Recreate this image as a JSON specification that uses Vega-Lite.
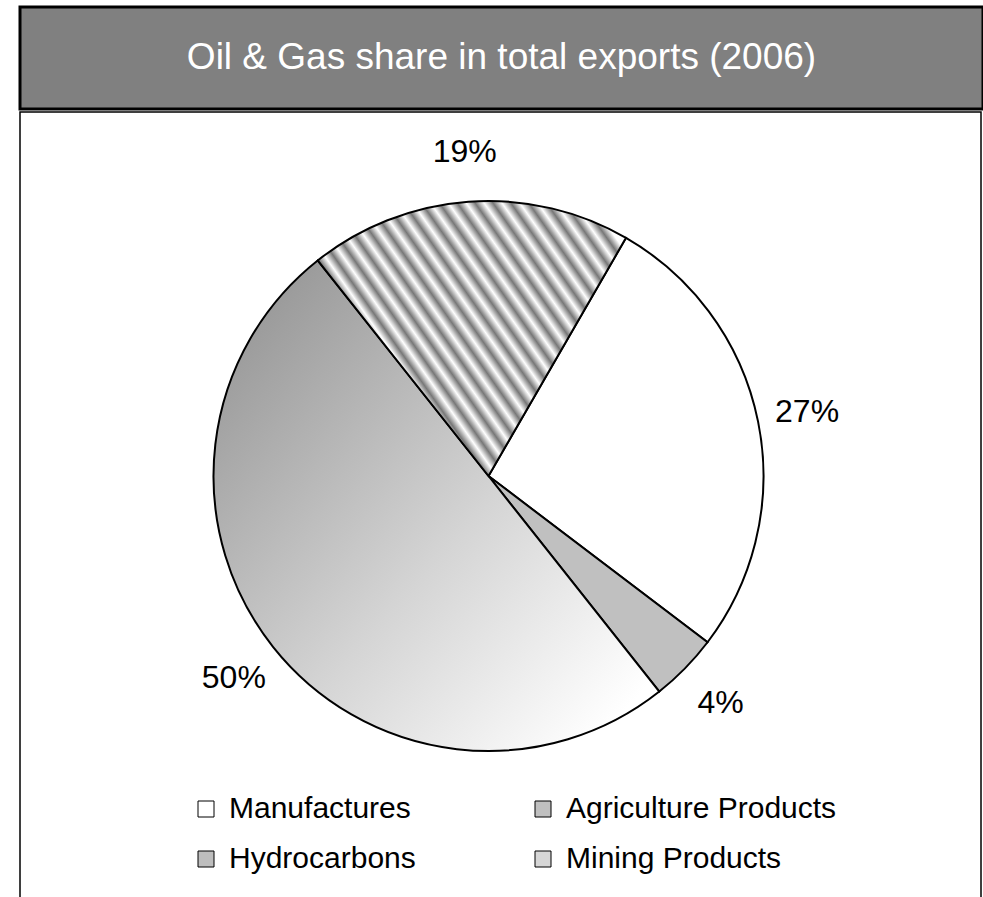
{
  "$schema": "https://vega.github.io/schema/vega-lite/v6.json",
  "background": "white",
  "padding": {"left": 18, "top": 5, "right": 0, "bottom": 0},
  "spacing": 0,
  "config": {
    "font": "Liberation Sans, Arial, sans-serif",
    "concat": {"spacing": 0}
  },
  "vconcat": [
    {
      "width": 963,
      "height": 102,
      "view": {"fill": "#808080", "stroke": "black", "strokeWidth": 3},
      "data": {"values": [{"title": "Oil & Gas share in total exports (2006)"}]},
      "mark": {"type": "text", "color": "white", "fontSize": 37, "align": "center", "baseline": "middle"},
      "encoding": {"text": {"field": "title", "type": "nominal"}}
    },
    {
      "width": 961,
      "height": 792,
      "view": {"stroke": "black", "strokeWidth": 1.5},
      "data": {
        "values": [
          {"cat": "Manufactures", "share": 0.27, "ord": 1},
          {"cat": "Agriculture Products", "share": 0.04, "ord": 2},
          {"cat": "Hydrocarbons", "share": 0.50, "ord": 3},
          {"cat": "Mining Products", "share": 0.19, "ord": 4}
        ]
      },
      "encoding": {
        "theta": {"field": "share", "type": "quantitative", "stack": true, "scale": {"range": [0.5236, 6.8068]}},
        "order": {"field": "ord", "type": "quantitative"}
      },
      "layer": [
        {
          "mark": {"type": "arc", "outerRadius": 275, "stroke": "black", "strokeWidth": 2, "xOffset": -12, "yOffset": -32},
          "encoding": {
            "fill": {
              "condition": [
                {"test": "datum.cat === 'Hydrocarbons'", "value": {"gradient": "linear", "x1": 0, "y1": 0, "x2": 1, "y2": 1, "stops": [{"offset": 0, "color": "#8d8d8d"}, {"offset": 0.56, "color": "#d5d5d5"}, {"offset": 0.92, "color": "#ffffff"}, {"offset": 1, "color": "#ffffff"}]}},
                {"test": "datum.cat === 'Mining Products'", "value": {"gradient": "linear", "x1": 0, "y1": 0.8125, "x2": 1, "y2": 0.1875, "stops": [
                  {"offset": 0, "color": "#fff"}, {"offset": 0.0208, "color": "#777"}, {"offset": 0.0417, "color": "#fff"}, {"offset": 0.0625, "color": "#777"}, {"offset": 0.0833, "color": "#fff"}, {"offset": 0.1042, "color": "#777"}, {"offset": 0.125, "color": "#fff"}, {"offset": 0.1458, "color": "#777"}, {"offset": 0.1667, "color": "#fff"}, {"offset": 0.1875, "color": "#777"}, {"offset": 0.2083, "color": "#fff"}, {"offset": 0.2292, "color": "#777"}, {"offset": 0.25, "color": "#fff"}, {"offset": 0.2708, "color": "#777"}, {"offset": 0.2917, "color": "#fff"}, {"offset": 0.3125, "color": "#777"}, {"offset": 0.3333, "color": "#fff"}, {"offset": 0.3542, "color": "#777"}, {"offset": 0.375, "color": "#fff"}, {"offset": 0.3958, "color": "#777"}, {"offset": 0.4167, "color": "#fff"}, {"offset": 0.4375, "color": "#777"}, {"offset": 0.4583, "color": "#fff"}, {"offset": 0.4792, "color": "#777"}, {"offset": 0.5, "color": "#fff"}, {"offset": 0.5208, "color": "#777"}, {"offset": 0.5417, "color": "#fff"}, {"offset": 0.5625, "color": "#777"}, {"offset": 0.5833, "color": "#fff"}, {"offset": 0.6042, "color": "#777"}, {"offset": 0.625, "color": "#fff"}, {"offset": 0.6458, "color": "#777"}, {"offset": 0.6667, "color": "#fff"}, {"offset": 0.6875, "color": "#777"}, {"offset": 0.7083, "color": "#fff"}, {"offset": 0.7292, "color": "#777"}, {"offset": 0.75, "color": "#fff"}, {"offset": 0.7708, "color": "#777"}, {"offset": 0.7917, "color": "#fff"}, {"offset": 0.8125, "color": "#777"}, {"offset": 0.8333, "color": "#fff"}, {"offset": 0.8542, "color": "#777"}, {"offset": 0.875, "color": "#fff"}, {"offset": 0.8958, "color": "#777"}, {"offset": 0.9167, "color": "#fff"}, {"offset": 0.9375, "color": "#777"}, {"offset": 0.9583, "color": "#fff"}, {"offset": 0.9792, "color": "#777"}, {"offset": 1, "color": "#fff"}
                ]}}
              ],
              "field": "cat",
              "type": "nominal",
              "scale": {"domain": ["Manufactures", "Hydrocarbons", "Agriculture Products", "Mining Products"], "range": ["#ffffff", "#bdbdbd", "#c0c0c0", "#d6d6d6"]},
              "legend": {
                "orient": "none",
                "legendX": 171,
                "legendY": 787,
                "columns": 2,
                "title": null,
                "symbolType": "square",
                "symbolSize": 256,
                "symbolOpacity": 1,
                "symbolStrokeColor": "black",
                "symbolStrokeWidth": 1,
                "labelFontSize": 30,
                "labelColor": "black",
                "labelOffset": 8,
                "labelLimit": 500,
                "columnPadding": 112,
                "rowPadding": 20
              }
            }
          }
        },
        {
          "mark": {"type": "text", "radius": 325, "fontSize": 32, "color": "black", "align": "center", "baseline": "middle", "xOffset": -12, "yOffset": -32},
          "encoding": {
            "text": {"field": "share", "type": "quantitative", "format": ".0%"}
          }
        }
      ]
    }
  ]
}
